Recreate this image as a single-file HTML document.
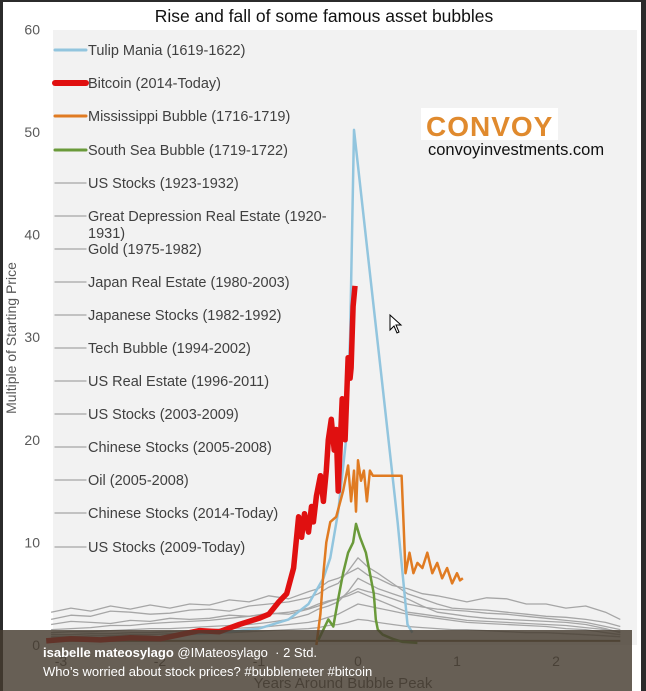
<!DOCTYPE html>
<html><head><meta charset="utf-8">
<style>
html,body{margin:0;padding:0;background:#2b2b2b;}
#wrap{position:relative;width:646px;height:691px;overflow:hidden;background:#2b2b2b;font-family:"Liberation Sans",sans-serif;}
svg{position:absolute;left:0;top:0;}
#overlay{position:absolute;left:0;top:630px;width:632px;height:61px;background:rgba(70,60,48,0.82);}
.ov{position:absolute;left:43px;color:#fff;font-size:13px;}
</style></head>
<body>
<div id="wrap">
<svg id="chart" width="646" height="691"></svg>
<div id="overlay">
  <div class="ov" style="top:15px"><b>isabelle mateosylago</b> @IMateosylago &nbsp;· 2 Std.</div>
  <div class="ov" style="top:34px">Who’s worried about stock prices? #bubblemeter #bitcoin</div>
</div>
</div>
<script>
const yTicks=[0,10,20,30,40,50,60];
const xTicks=[-3,-2,-1,0,1,2];
const tulipX=[-1.9,-1.4,-1.0,-0.7,-0.5,-0.35,-0.28,-0.2,-0.12,-0.08,-0.04,0.1,0.25,0.4,0.5,0.55];
const tulipY=[1.0,1.2,1.6,2.5,4.0,6.5,8.5,13,20,30,50.2,38,25,12,2,1.2];
const btcX=[-3.15,-2.9,-2.6,-2.3,-2.0,-1.8,-1.6,-1.4,-1.2,-1.0,-0.9,-0.8,-0.72,-0.65,-0.6,-0.57,-0.54,-0.5,-0.47,-0.45,-0.42,-0.38,-0.35,-0.32,-0.3,-0.27,-0.24,-0.22,-0.2,-0.16,-0.13,-0.1,-0.08,-0.07,-0.05,-0.03];
const btcY=[0.4,0.6,0.5,0.7,0.6,1.0,1.4,1.3,2.0,2.6,3.0,4.2,5.0,7.5,12.5,10.5,12.8,11,13.5,12,14.5,16.5,14,17,20,22,19,21,15,24,20,28,26,27,33,35];
const missX=[-0.42,-0.38,-0.35,-0.32,-0.28,-0.22,-0.15,-0.1,-0.07,-0.04,-0.02,0.0,0.03,0.06,0.09,0.12,0.15,0.2,0.3,0.44,0.46,0.48,0.52,0.56,0.6,0.65,0.7,0.75,0.8,0.85,0.9,0.95,1.0,1.03,1.06];
const missY=[0,3,7,10,12,12.5,15,17.5,14,17,13,18,16,17,14,17,16.5,16.5,16.5,16.5,12,7,9,7,8,7.5,9,7,8,6.5,7.5,6,7,6.3,6.5];
const ssX=[-0.4,-0.35,-0.3,-0.25,-0.2,-0.15,-0.1,-0.05,-0.02,0.02,0.08,0.12,0.16,0.18,0.2,0.25,0.35,0.45,0.6];
const ssY=[0.5,1.5,2.5,1.8,4.5,7,9,10,11.8,10.5,9,7,5,2.5,1.5,1,0.6,0.3,0.2];
const grayX=[-3.1,-2.9,-2.7,-2.5,-2.3,-2.1,-1.9,-1.7,-1.5,-1.3,-1.1,-0.9,-0.7,-0.5,-0.4,-0.3,-0.2,-0.1,0,0.1,0.2,0.35,0.5,0.65,0.8,0.95,1.1,1.3,1.5,1.7,1.9,2.1,2.3,2.5,2.65];
const gray1=[3.2,3.6,3.3,3.8,3.5,3.9,3.6,4.0,3.9,4.4,4.2,4.8,4.5,5.2,5.5,6.2,6.5,7.0,7.5,6.8,6.5,5.8,5.5,5.0,4.8,4.5,4.2,4.6,4.5,4.0,4.0,3.6,3.8,3.2,2.5];
const gray2=[2.5,2.9,2.8,3.3,3.2,3.0,3.1,3.4,3.5,3.3,3.8,4.0,4.2,4.6,5,5.6,6,7.2,8.5,7.6,7,6.0,5,4.5,4,3.6,3.5,3.4,3.2,3.0,2.8,2.7,2.5,2.2,1.8];
const gray3=[1.5,1.6,1.7,1.9,1.9,2.1,2.2,2.3,2.4,2.6,2.8,3.0,3.2,3.6,4.0,4.3,4.5,5.0,5.5,5.2,5.0,4.5,4.0,3.7,3.5,3.4,3.3,3.1,3.0,2.8,2.6,2.4,2.2,1.8,1.5];
const gray4=[1.2,1.3,1.3,1.4,1.5,1.6,1.6,1.7,1.8,1.9,2.0,2.2,2.5,3.0,3.5,3.8,4.2,5.2,6.5,6.0,5.5,5.0,4.5,3.8,3.2,3.0,2.8,2.6,2.5,2.4,2.3,2.2,2.0,1.6,1.2];
const gray5=[1.0,1.0,1.1,1.1,1.2,1.2,1.3,1.4,1.5,1.6,1.7,1.8,2.0,2.2,2.4,2.7,3.0,3.5,4.0,3.8,3.6,3.3,3.0,2.8,2.6,2.4,2.2,2.1,2.0,1.9,1.8,1.6,1.5,1.2,1.0];
const gray6=[0.8,0.8,0.9,0.9,1.0,1.0,1.1,1.1,1.2,1.2,1.3,1.4,1.5,1.6,1.7,1.9,2.0,2.2,2.5,2.4,2.2,2.0,1.8,1.7,1.6,1.5,1.5,1.4,1.3,1.2,1.2,1.1,1.0,0.9,0.8];
const gray7=[2.0,2.3,2.2,2.1,2.4,2.3,2.6,2.5,2.6,2.9,2.8,3.1,3.0,3.5,3.8,4.2,4.5,4.8,5.2,4.8,4.4,3.8,3.2,3.0,2.8,2.6,2.4,2.3,2.2,2.1,2.0,1.9,1.7,1.5,1.3];
const legendLabels=["Tulip Mania (1619-1622)","Bitcoin (2014-Today)","Mississippi Bubble (1716-1719)","South Sea Bubble (1719-1722)","US Stocks (1923-1932)","Great Depression Real Estate (1920-","Gold (1975-1982)","Japan Real Estate (1980-2003)","Japanese Stocks (1982-1992)","Tech Bubble (1994-2002)","US Real Estate (1996-2011)","US Stocks (2003-2009)","Chinese Stocks (2005-2008)","Oil (2005-2008)","Chinese Stocks (2014-Today)","US Stocks (2009-Today)"];

const NS="http://www.w3.org/2000/svg";
const svg=document.getElementById('chart');
function X(v){return 358+99*v;}
function Y(v){return 645-10.26*v;}
function mk(tag,attrs,parent){const e=document.createElementNS(NS,tag);for(const k in attrs)e.setAttribute(k,attrs[k]);(parent||svg).appendChild(e);return e;}
mk('rect',{x:3,y:2,width:638,height:689,fill:'#ffffff'});
const plot=mk('rect',{x:53,y:30,width:584,height:615,fill:'#f2f2f2'});


const t=mk('text',{x:324,y:22,'text-anchor':'middle','font-size':17.5,fill:'#111'});
t.textContent='Rise and fall of some famous asset bubbles';


yTicks.forEach(v=>{const e=mk('text',{x:40,y:Y(v)+5,'text-anchor':'end','font-size':14,fill:'#595959'});e.textContent=v;

});
xTicks.forEach(v=>{const e=mk('text',{x:X(v),y:666,'text-anchor':'middle','font-size':14,fill:'#595959'});e.textContent=v;

});
const yt=mk('text',{x:0,y:0,transform:'translate(16,338) rotate(-90)','text-anchor':'middle','font-size':14,fill:'#595959'});
yt.textContent='Multiple of Starting Price';


const xt=mk('text',{x:343,y:688,'text-anchor':'middle','font-size':15,fill:'#595959'});
xt.textContent='Years Around Bubble Peak';


function line(xs,ys,color,w,name){const d=xs.map((x,i)=>(i?'L':'M')+X(x).toFixed(1)+','+Y(ys[i]).toFixed(1)).join('');
const p=mk('path',{d:d,fill:'none',stroke:color,'stroke-width':w,'stroke-linejoin':'round'});

return p;}
[gray1,gray2,gray3,gray4,gray5,gray6,gray7].forEach(g=>line(grayX,g,'#a6a6a6',1.3,'gray-series'));
line(grayX,grayX.map(()=>0.4),'#7a6a50',2,'baseline-series');
line(tulipX,tulipY,'#92c5de',2.5,'tulip-series');
line(missX,missY,'#e07b22',2.5,'mississippi-series');
line(ssX,ssY,'#6a9a3a',2.5,'south-sea-series');
line(btcX,btcY,'#e01010',5.5,'bitcoin-series');
const lc=['#92c5de','#e01010','#e07b22','#6a9a3a'];const lw=[3,6,3,3];
const ly=[50,83,116,150,183,216,249,282,315,348,381,414,447,480,513,547];
legendLabels.forEach((s,i)=>{
const l=mk('line',{x1:55,x2:86,y1:ly[i],y2:ly[i],stroke:lc[i]||'#a6a6a6','stroke-width':lw[i]||1.3,'stroke-linecap':'round'});


const e=mk('text',{x:88,y:ly[i]+5,'font-size':14.5,fill:'#404040'});e.textContent=s;


if(i==5){const e2=mk('text',{x:88,y:238,'font-size':14.5,fill:'#404040'});e2.textContent='1931)';

}
});
mk('rect',{x:421,y:108,width:137,height:32,fill:'#ffffff'});
const c1=mk('text',{x:426,y:136,'font-size':28,'font-weight':'bold',fill:'#e08a2e','letter-spacing':1});c1.textContent='CONVOY';


const c2=mk('text',{x:428,y:155,'font-size':16.5,fill:'#111'});c2.textContent='convoyinvestments.com';


const cur=mk('path',{d:'M390,315 L390,330 L394,326 L397,333 L399,332 L396,325 L401,325 Z',fill:'#fff',stroke:'#000','stroke-width':1});


</script>
</body></html>
